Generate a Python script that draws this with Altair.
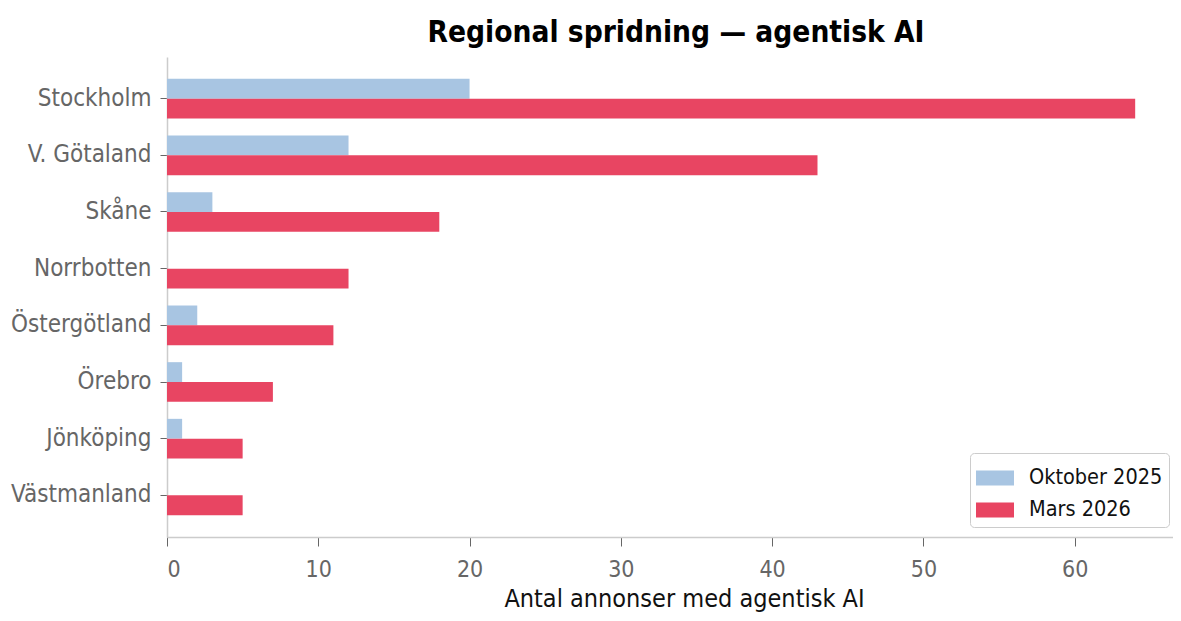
import altair as alt
import pandas as pd

regions = ["Stockholm", "V. Götaland", "Skåne", "Norrbotten", "Östergötland", "Örebro", "Jönköping", "Västmanland"]
oktober_2025 = [20, 12, 3, 0, 2, 1, 1, 0]
mars_2026 = [64, 43, 18, 12, 11, 7, 5, 5]
periods = ["Oktober 2025", "Mars 2026"]
colors = ["#a8c5e2", "#e84562"]

rows = []
for r, a, b in zip(regions, oktober_2025, mars_2026):
    rows.append({"region": r, "period": periods[0], "value": a})
    rows.append({"region": r, "period": periods[1], "value": b})
df = pd.DataFrame(rows)

FONT = "DejaVu Sans Condensed, Liberation Sans Narrow, DejaVu Sans"

chart = alt.Chart(df).mark_bar().encode(
    y=alt.Y("region:N", sort=regions,
            scale=alt.Scale(paddingInner=0.3, paddingOuter=0.385),
            axis=alt.Axis(title=None, labelFontSize=24, labelColor="#666666", labelFont=FONT,
                          tickColor="#666666", tickSize=7, labelPadding=9,
                          domainColor="#cccccc", domainWidth=1.5)),
    yOffset=alt.YOffset("period:N", sort=periods, scale=alt.Scale(paddingInner=0, paddingOuter=0)),
    x=alt.X("value:Q", scale=alt.Scale(domain=[0, 66.5], nice=False),
            axis=alt.Axis(title="Antal annonser med agentisk AI", values=[0, 10, 20, 30, 40, 50, 60],
                          labelFontSize=23, labelColor="#666666", labelFont=FONT,
                          tickColor="#666666", tickSize=9, labelPadding=12,
                          domainColor="#cccccc", domainWidth=1.5, grid=False,
                          titleFont=FONT, titleFontSize=25, titleFontWeight="normal",
                          titleColor="#111111", titlePadding=5, titleX=517, titleAnchor="middle",
                          titleAlign="center")),
    color=alt.Color("period:N", sort=periods,
                    scale=alt.Scale(domain=periods, range=colors),
                    legend=alt.Legend(title=None, orient="none", legendX=803, legendY=396,
                                      symbolType="M-1,-0.39L1,-0.39L1,0.39L-1,0.39Z",
                                      symbolSize=1444, symbolStrokeWidth=0,
                                      labelFont=FONT, labelFontSize=21.5, labelColor="#111111",
                                      strokeColor="#cccccc", fillColor="white", cornerRadius=4,
                                      padding=6, rowPadding=2, labelOffset=15)),
).properties(
    width=1006,
    height=480,
    title=alt.TitleParams("Regional spridning — agentisk AI", font=FONT, fontSize=29.6,
                          fontWeight="bold", color="#000000", anchor="middle", offset=8, dx=6),
    autosize=alt.AutoSizeParams(type="none"),
    padding={"left": 159, "top": 49, "right": 0, "bottom": 83},
).configure(background="white").configure_view(stroke=None)

chart.save("out.html", embed_options={"renderer": "svg", "actions": False})
